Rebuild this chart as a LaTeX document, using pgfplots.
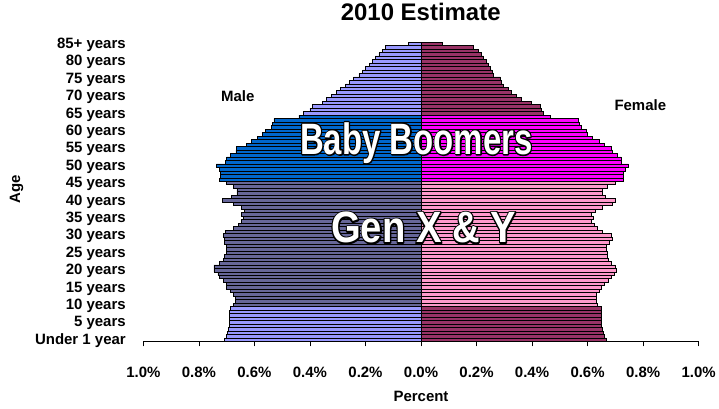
\documentclass[border=0pt]{standalone}
\usepackage{pgfplots}
\pgfplotsset{compat=1.18}
\usepackage{pgfplotstable}
\usepackage{fontspec}
\setmainfont{Liberation Sans}

\definecolor{peri}{HTML}{9999FF}
\definecolor{slate}{HTML}{666699}
\definecolor{boomblue}{HTML}{0066CC}
\definecolor{maroon}{HTML}{993366}
\definecolor{pinkf}{HTML}{FF99CC}
\definecolor{magentaf}{HTML}{FF00FF}

\newcommand\lbl{\fontsize{15}{17}\selectfont\bfseries}
\newcommand\outlined[1]{\rlap{\color{black}\special{pdf:literal direct 0 0 0 RG 3 w 1 j 2 Tr}#1\special{pdf:literal direct 0 Tr}}\color{white}#1}

\pgfplotstableread{
age male female
0 0.707 0.667
1 0.700 0.660
2 0.697 0.657
3 0.695 0.654
4 0.690 0.651
5 0.690 0.651
6 0.690 0.651
7 0.690 0.651
8 0.690 0.648
9 0.688 0.651
}\young

\pgfplotstableread{
age male female
10 0.677 0.636
11 0.670 0.630
12 0.670 0.630
13 0.677 0.633
14 0.687 0.642
15 0.700 0.648
16 0.700 0.660
17 0.711 0.675
18 0.725 0.684
19 0.732 0.696
20 0.746 0.702
21 0.746 0.699
22 0.725 0.684
23 0.711 0.675
24 0.707 0.670
25 0.700 0.670
26 0.700 0.667
27 0.700 0.667
28 0.707 0.678
29 0.707 0.688
30 0.711 0.684
31 0.704 0.654
32 0.677 0.636
33 0.659 0.624
34 0.647 0.615
35 0.641 0.620
36 0.647 0.612
37 0.635 0.627
38 0.647 0.654
39 0.675 0.690
40 0.715 0.699
41 0.683 0.665
42 0.663 0.654
43 0.663 0.654
44 0.677 0.672
45 0.700 0.700
}\genxy

\pgfplotstableread{
age male female
46 0.725 0.728
47 0.723 0.728
48 0.723 0.728
49 0.725 0.735
50 0.737 0.747
51 0.704 0.720
52 0.700 0.720
53 0.687 0.708
54 0.667 0.690
55 0.665 0.687
56 0.629 0.660
57 0.610 0.642
58 0.590 0.618
59 0.570 0.599
60 0.560 0.594
61 0.540 0.576
62 0.535 0.570
63 0.530 0.565
64 0.440 0.464
}\boomers

\pgfplotstableread{
age male female
65 0.425 0.440
66 0.400 0.435
67 0.390 0.430
68 0.354 0.396
69 0.340 0.362
70 0.323 0.345
71 0.305 0.326
72 0.291 0.315
73 0.272 0.297
74 0.258 0.290
75 0.243 0.286
76 0.224 0.262
77 0.210 0.255
78 0.200 0.250
79 0.186 0.242
80 0.176 0.234
81 0.164 0.225
82 0.152 0.217
83 0.140 0.205
84 0.128 0.190
85 0.044 0.076
}\older

\begin{document}
\begin{tikzpicture}
\begin{axis}[
  at={(0,0)}, anchor=south west,
  scale only axis,
  width=556.3pt, height=300pt,
  xmin=-1, xmax=1, ymin=-0.5, ymax=85.5,
  xbar, bar width=1, bar shift=0pt,
  axis x line*=bottom,
  axis y line*=left,
  y axis line style={draw=none},
  ytick style={draw=none},
  xtick={-1,-0.8,-0.6,-0.4,-0.2,0,0.2,0.4,0.6,0.8,1},
  xticklabels={1.0\%,0.8\%,0.6\%,0.4\%,0.2\%,0.0\%,0.2\%,0.4\%,0.6\%,0.8\%,1.0\%},
  xtick align=outside,
  major tick length=5pt,
  x axis line style={line width=0.8pt},
  xtick style={line width=0.8pt, black},
  xticklabel style={font=\lbl, anchor=center, yshift=-26pt},
  ytick={0,5,...,85},
  yticklabels={Under 1 year,5 years,10 years,15 years,20 years,25 years,30 years,35 years,40 years,45 years,50 years,55 years,60 years,65 years,70 years,75 years,80 years,85+ years},
  yticklabel style={font=\lbl, anchor=east, inner sep=0pt, xshift=-12.5pt, yshift=-1pt},
  title={2010 Estimate},
  title style={font=\fontsize{24}{28}\selectfont\bfseries, at={(axis description cs:0.4995,1.08)}, anchor=center},
  xlabel={Percent},
  xlabel style={font=\lbl, at={(axis description cs:0.5,-0.1833)}, anchor=center},
  ylabel={Age},
  ylabel style={font=\lbl, at={(axis description cs:-0.2283,0.507)}, anchor=center},
  clip=false,
]
\addplot[xbar, fill=peri, draw=black, line width=0.6pt] table[y=age, x expr=-\thisrow{male}] {\young};
\addplot[xbar, fill=slate, draw=black, line width=0.6pt] table[y=age, x expr=-\thisrow{male}] {\genxy};
\addplot[xbar, fill=boomblue, draw=black, line width=0.6pt] table[y=age, x expr=-\thisrow{male}] {\boomers};
\addplot[xbar, fill=peri, draw=black, line width=0.6pt] table[y=age, x expr=-\thisrow{male}] {\older};
\addplot[xbar, fill=maroon, draw=black, line width=0.6pt] table[y=age, x=female] {\young};
\addplot[xbar, fill=pinkf, draw=black, line width=0.6pt] table[y=age, x=female] {\genxy};
\addplot[xbar, fill=magentaf, draw=black, line width=0.6pt] table[y=age, x=female] {\boomers};
\addplot[xbar, fill=maroon, draw=black, line width=0.6pt] table[y=age, x=female] {\older};
\draw[black, line width=0.8pt] (axis cs:0,-0.5) -- (axis cs:0,85.5);
\node[font=\lbl] at (axis cs:-0.66,70) {Male};
\node[font=\lbl] at (axis cs:0.79,67.4) {Female};
\node[font=\fontsize{44}{48}\selectfont\bfseries] at (axis cs:-0.017,56.55) {\scalebox{0.75}[1]{\outlined{Baby Boomers}}};
\node[font=\fontsize{44}{48}\selectfont\bfseries] at (axis cs:0.009,32.2) {\scalebox{0.87}[1]{\outlined{Gen X \& Y}}};
\end{axis}
\path[use as bounding box] (-143.7pt,-67pt) rectangle (575.3pt,342pt);
\end{tikzpicture}
\end{document}
